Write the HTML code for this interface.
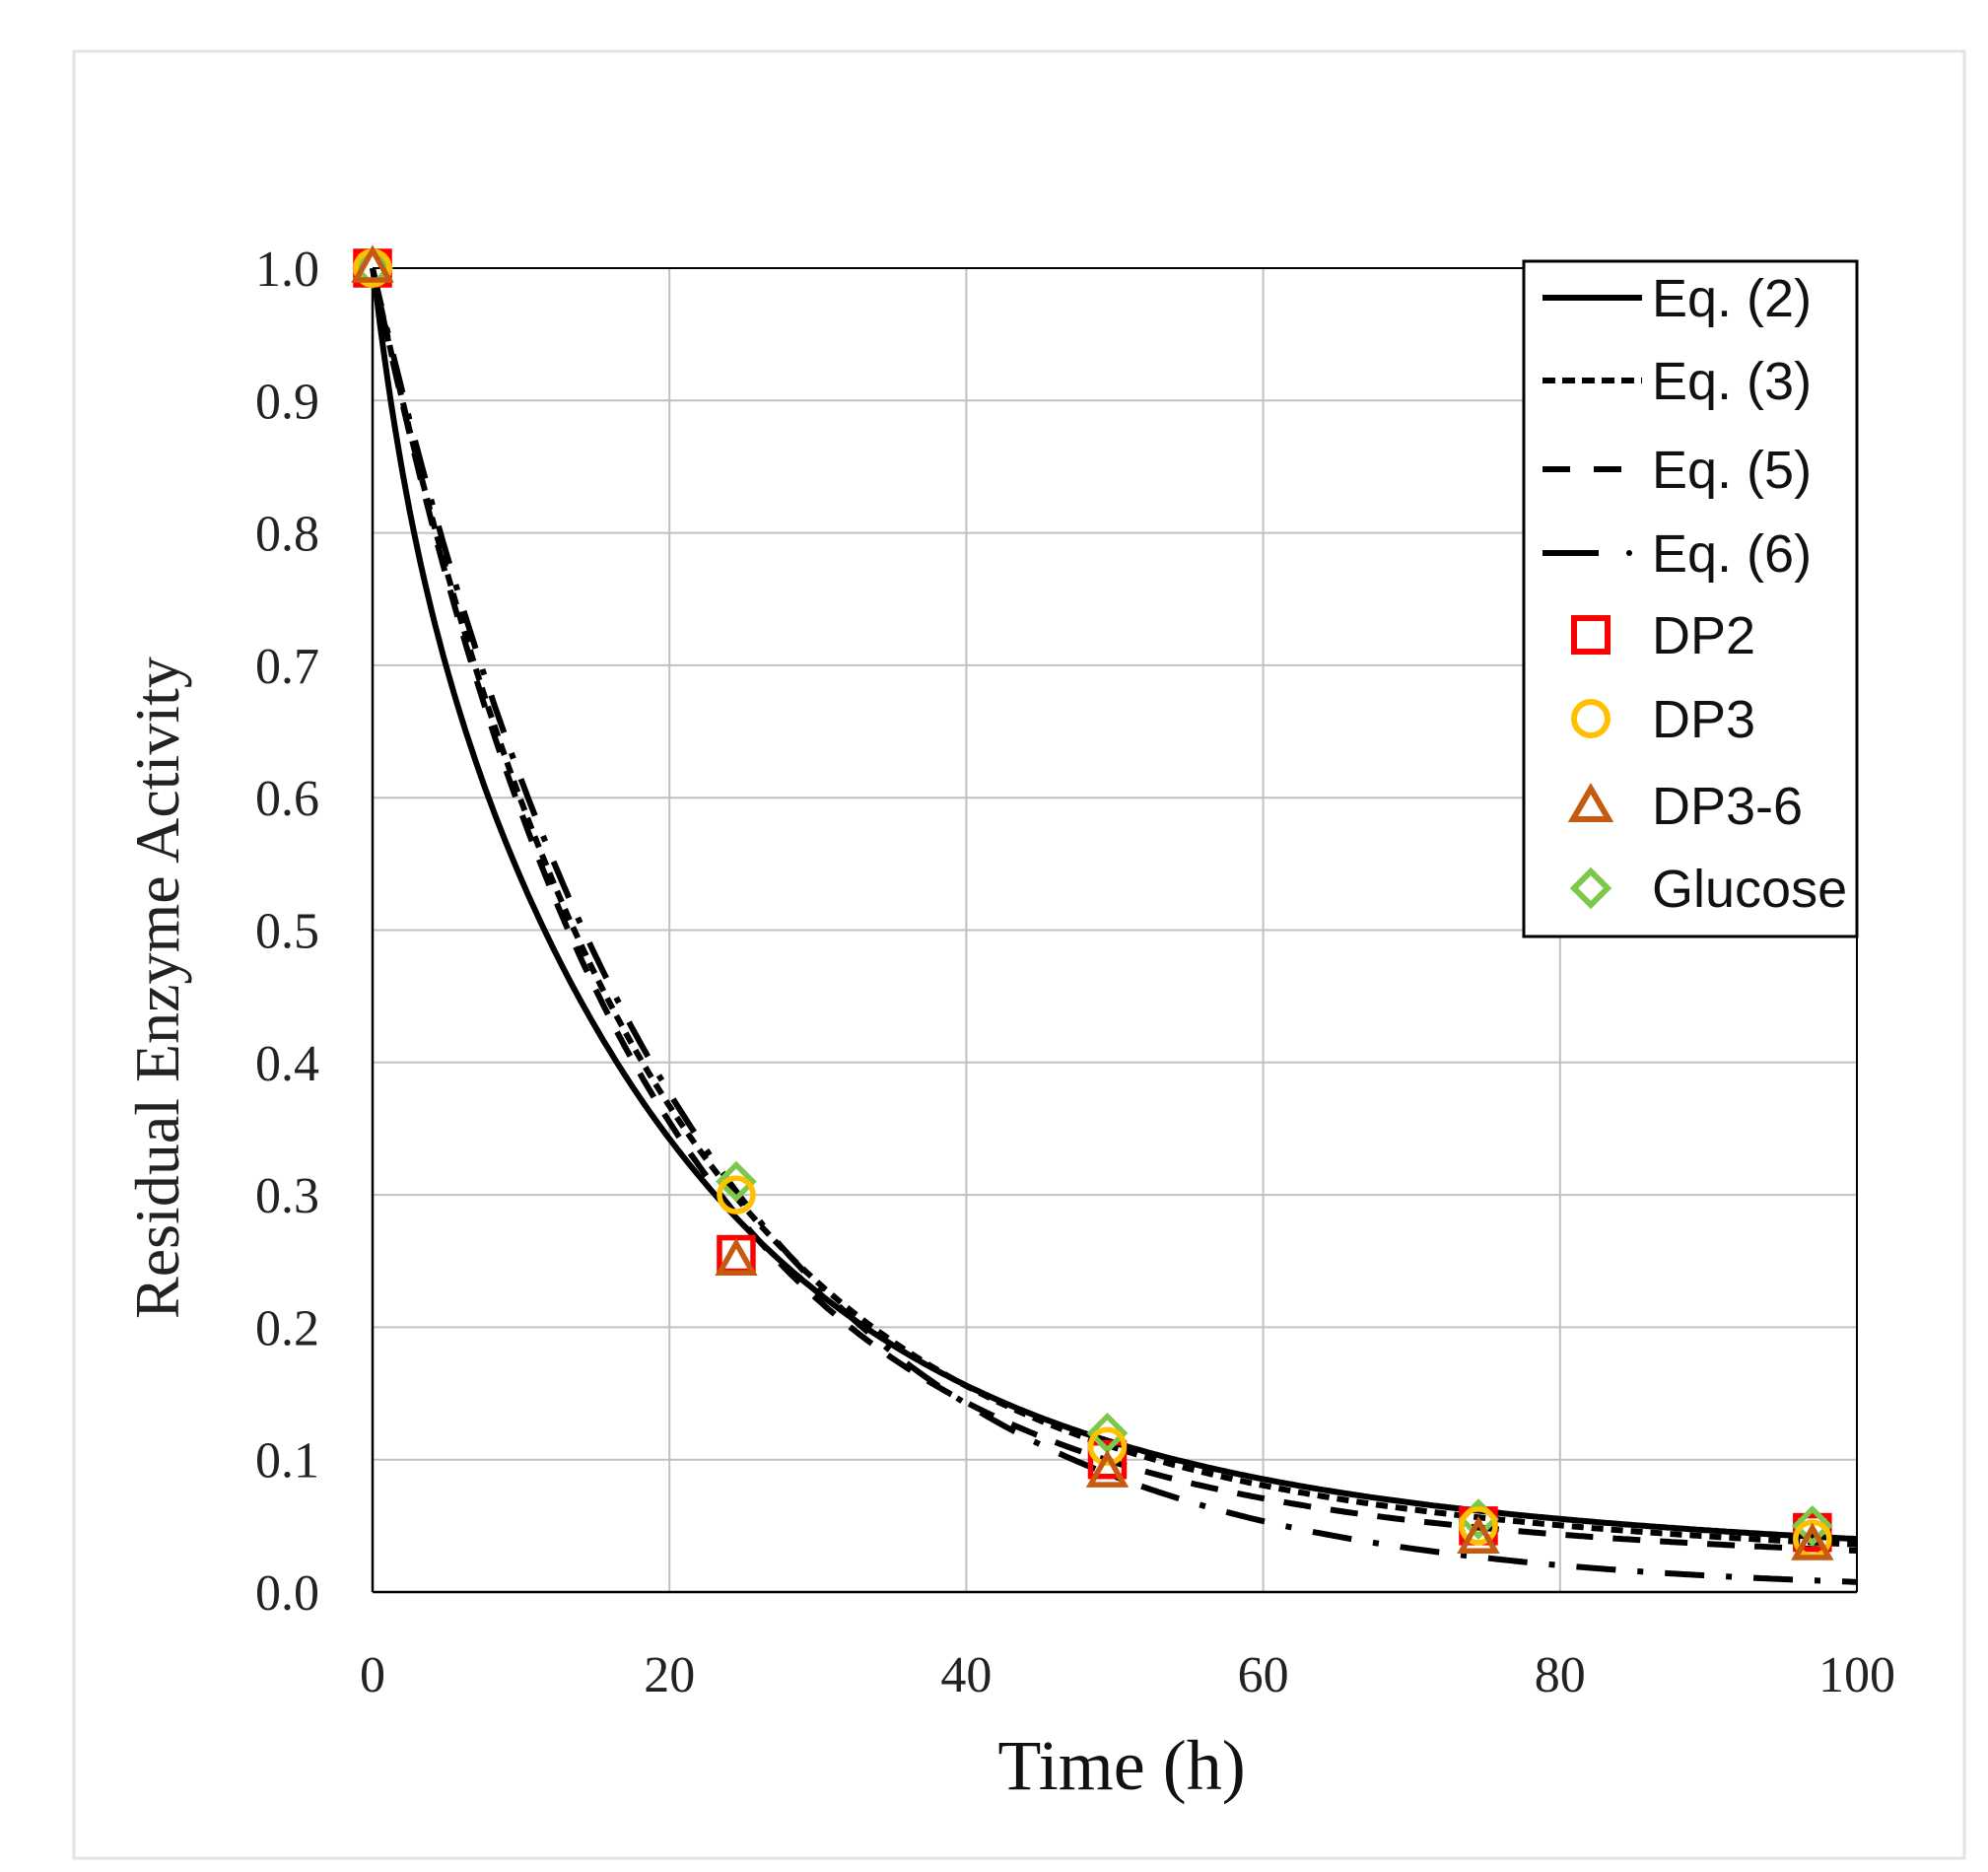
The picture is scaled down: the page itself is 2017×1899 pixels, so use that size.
<!DOCTYPE html>
<html><head><meta charset="utf-8"><style>
html,body{margin:0;padding:0;background:#fff;}
svg{display:block;}
</style></head><body>
<svg id="s" width="2017" height="1899" viewBox="0 0 2017 1899" xmlns="http://www.w3.org/2000/svg">
<rect x="0" y="0" width="2017" height="1899" fill="#fff"/>
<rect x="75" y="52" width="1918" height="1833" fill="none" stroke="#e3e3e3" stroke-width="3"/>
<g id="grid" stroke="#c0c0c0" stroke-width="2"></g>
<line x1="378" y1="272" x2="1884" y2="272" stroke="#000" stroke-width="2"/>
<line x1="1884" y1="272" x2="1884" y2="1615" stroke="#000" stroke-width="2"/>
<line x1="378" y1="272" x2="378" y2="1615" stroke="#000" stroke-width="2.5"/>
<line x1="378" y1="1615" x2="1884" y2="1615" stroke="#000" stroke-width="2.5"/>
<g id="curves" fill="none" stroke="#000" stroke-width="6"></g>
<g id="marks" fill="none" stroke-width="5.5"></g>
<g id="ticks" font-family="Liberation Serif, serif" font-size="52" fill="#222"></g>
<text x="1138" y="1815" font-family="Liberation Serif, serif" font-size="72" text-anchor="middle" fill="#111">Time (h)</text>
<text transform="translate(181,1002) rotate(-90)" font-family="Liberation Serif, serif" font-size="64" text-anchor="middle" fill="#222">Residual Enzyme Activity</text>
<g transform="translate(-9,-4)">
<rect x="1555" y="269" width="338" height="685" fill="#fff" stroke="#000" stroke-width="3"/>
<g font-family="Liberation Sans, sans-serif" font-size="54" fill="#111">
<text x="1685" y="325">Eq. (2)</text>
<text x="1685" y="409">Eq. (3)</text>
<text x="1685" y="499">Eq. (5)</text>
<text x="1685" y="584">Eq. (6)</text>
<text x="1685" y="667">DP2</text>
<text x="1685" y="752">DP3</text>
<text x="1685" y="840">DP3-6</text>
<text x="1685" y="924">Glucose</text>
</g>
<g stroke="#000" stroke-width="6">
<line x1="1574" y1="306" x2="1675" y2="306"/>
<line x1="1574" y1="390" x2="1675" y2="390" stroke-dasharray="13 7"/>
<line x1="1574" y1="480" x2="1657" y2="480" stroke-dasharray="28 24"/>
<line x1="1574" y1="565" x2="1631" y2="565"/>
<circle cx="1662" cy="565" r="3" fill="#000" stroke="none"/>
</g>
<g fill="none" stroke-width="6">
<rect x="1606" y="631" width="34" height="34" stroke="#f00"/>
<circle cx="1623" cy="733" r="17" stroke="#ffc000"/>
<polygon points="1623,804 1641,835 1605,835" stroke="#c55a11"/>
<polygon points="1623,888 1640,905 1623,922 1606,905" stroke="#7cc84a"/>
</g>
</g>
<script>
var X=function(t){return 378+t*15.06},Y=function(v){return 1615-v*1343};
var g=document.getElementById('grid'),NS='http://www.w3.org/2000/svg';
function el(p,tag,a){var e=document.createElementNS(NS,tag);for(var k in a)e.setAttribute(k,a[k]);p.appendChild(e);return e;}
for(var i=1;i<=4;i++)el(g,'line',{x1:X(i*20),x2:X(i*20),y1:272,y2:1615});
for(var i=1;i<=9;i++)el(g,'line',{x1:378,x2:1884,y1:Y(i/10),y2:Y(i/10)});
var tk=document.getElementById('ticks');
for(var i=0;i<=10;i++){var t=el(tk,'text',{x:324,y:Y(i/10)+18,'text-anchor':'end'});t.textContent=(i/10).toFixed(1);}
for(var i=0;i<=5;i++){var t=el(tk,'text',{x:X(i*20),y:1716,'text-anchor':'middle'});t.textContent=i*20;}
var fs=[
 [function(t){return 0.14*Math.exp(-t/2.5)+0.76*Math.exp(-t/18.5)+0.104*Math.exp(-t/96)},''],
 [function(t){return 0.9*Math.exp(-t/17.5)+0.1*Math.exp(-t/90)},'12 8'],
 [function(t){return 0.93*Math.exp(-t/17.5)+0.07*Math.exp(-t/110)},'28 20'],
 [function(t){return Math.exp(-t/20.5)},'40 22 6 22']];
var cg=document.getElementById('curves');
fs.forEach(function(f){var d='';for(var t=0;t<=100;t+=0.25){d+=(t?'L':'M')+X(t).toFixed(1)+','+Y(Math.min(1,f[0](t))).toFixed(1);}
 var a={d:d};if(f[1])a['stroke-dasharray']=f[1];el(cg,'path',a);});
var mg=document.getElementById('marks');
var T=[0,24.5,49.5,74.5,97];
var dp2=[1,0.255,0.10,0.05,0.045],dp3=[1,0.30,0.11,0.05,0.04],dp36=[1,0.25,0.09,0.04,0.035],glu=[1,0.31,0.12,0.055,0.05];
T.forEach(function(t,i){var x=X(t);
 var y=Y(dp2[i]);el(mg,'rect',{x:x-17,y:y-17,width:34,height:34,stroke:'#f00'});
 y=Y(glu[i]);el(mg,'polygon',{points:[x,y-17,x+17,y,x,y+17,x-17,y].join(' '),stroke:'#7cc84a'});
 y=Y(dp3[i]);el(mg,'circle',{cx:x,cy:y,r:17,stroke:'#ffc000'});
 y=Y(dp36[i]);el(mg,'polygon',{points:[x,y-18,x+17,y+12,x-17,y+12].join(' '),stroke:'#c55a11'});
});
</script>
</svg>
</body></html>
